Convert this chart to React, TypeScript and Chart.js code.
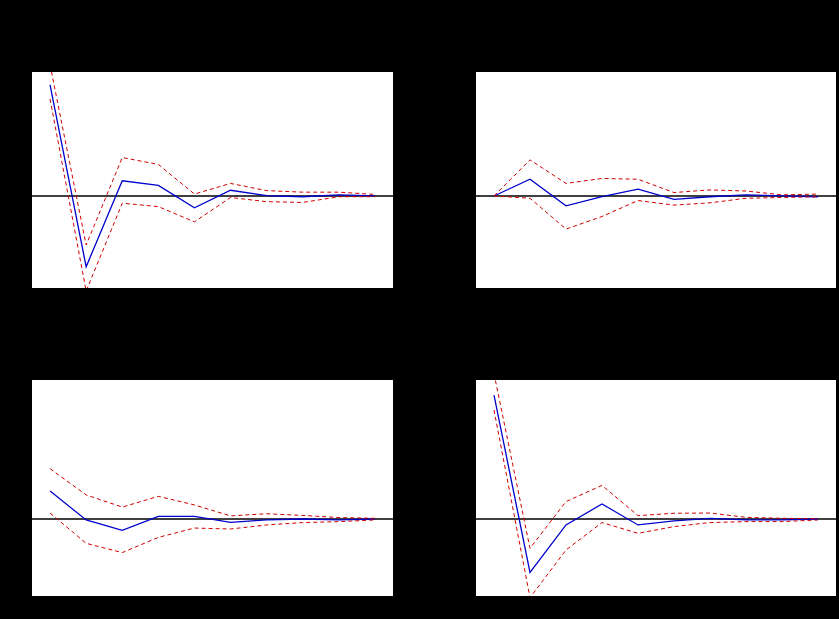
import React, { useEffect, useRef } from "react";
import { Chart, registerables } from "chart.js";

Chart.register(...registerables);

const periods = ["1", "2", "3", "4", "5", "6", "7", "8", "9", "10"];

// Top-left: Response of DGDP to DGDP
const tlMid = [2.92, -1.86, 0.40, 0.28, -0.31, 0.15, 0.01, -0.02, 0.03, 0.0];
const tlUp = [3.45, -1.29, 1.01, 0.83, 0.05, 0.33, 0.14, 0.10, 0.10, 0.04];
const tlLo = [2.55, -2.5, -0.19, -0.28, -0.68, -0.04, -0.15, -0.17, -0.02, -0.02];

// Top-right: Response of DGDP to DM2
const trMid = [0.0, 0.44, -0.26, -0.02, 0.18, -0.09, -0.02, 0.03, 0.0, -0.02];
const trUp = [0.0, 0.95, 0.33, 0.46, 0.44, 0.09, 0.16, 0.13, 0.03, 0.05];
const trLo = [0.0, -0.06, -0.87, -0.54, -0.12, -0.24, -0.18, -0.06, -0.04, -0.02];

// Bottom-left: Response of DM2 to DGDP
const blMid = [0.0117, -0.0004, -0.0048, 0.0011, 0.0011, -0.0014, -0.0004, 0.0, -0.0004, 0.0];
const blUp = [0.0211, 0.0101, 0.005, 0.0095, 0.0059, 0.0013, 0.0022, 0.0015, 0.0006, 0.0003];
const blLo = [0.0025, -0.0102, -0.0141, -0.0077, -0.0038, -0.0042, -0.0025, -0.0015, -0.0011, -0.0004];

// Bottom-right: Response of DM2 to DM2
const brMid = [0.052, -0.0224, -0.0025, 0.0063, -0.0025, -0.0008, 0.0003, -0.0004, -0.0004, 0.0];
const brUp = [0.061, -0.0123, 0.0073, 0.0141, 0.0014, 0.0024, 0.0025, 0.0007, 0.0003, 0.0001];
const brLo = [0.0457, -0.033, -0.013, -0.0015, -0.006, -0.0032, -0.0015, -0.0011, -0.0011, -0.0004];

const topTicks = [-2, -1, 0, 1, 2, 3];
const bottomTicks = [-0.02, 0, 0.02, 0.04];

const mainTitle = "Response to Cholesky One S.D. (d.f. adjusted) Innovations \u00b1 2 S.E.";
const titles = [
  "Response of DGDP to DGDP",
  "Response of DGDP to DM2",
  "Response of DM2 to DGDP",
  "Response of DM2 to DM2",
];

const fmtSmall = (v: number) => {
  const s = Math.abs(v).toFixed(2).replace(/^0/, "");
  return v < 0 ? "-" + s : s;
};

const bgZeroPlugin = {
  id: "bgZero",
  beforeDatasetsDraw(chart: any) {
    const { ctx, chartArea } = chart;
    ctx.save();
    ctx.fillStyle = "#ffffff";
    ctx.fillRect(chartArea.left, chartArea.top, chartArea.right - chartArea.left, chartArea.bottom - chartArea.top);
    const y = chart.scales.y.getPixelForValue(0);
    ctx.strokeStyle = "#000000";
    ctx.lineWidth = 1.5;
    ctx.beginPath();
    ctx.moveTo(chartArea.left, y);
    ctx.lineTo(chartArea.right, y);
    ctx.stroke();
    ctx.restore();
  },
};

type PanelProps = {
  left: number;
  top: number;
  width: number;
  height: number;
  yWidth: number;
  padTop: number;
  padRight: number;
  padBottom: number;
  mid: number[];
  up: number[];
  lo: number[];
  min: number;
  max: number;
  ticks: number[];
  small: boolean;
};

function Panel(p: PanelProps) {
  const ref = useRef<HTMLCanvasElement>(null);
  useEffect(() => {
    const red = "#d00000";
    const chart = new Chart(ref.current as HTMLCanvasElement, {
      type: "line",
      data: {
        labels: periods,
        datasets: [
          { data: p.up, borderColor: red, borderWidth: 1, borderDash: [4, 3], pointRadius: 0, tension: 0 },
          { data: p.lo, borderColor: red, borderWidth: 1, borderDash: [4, 3], pointRadius: 0, tension: 0 },
          { data: p.mid, borderColor: "#0000cc", borderWidth: 1.3, pointRadius: 0, tension: 0 },
        ],
      },
      options: {
        animation: false,
        responsive: false,
        layout: { padding: { left: 0, top: p.padTop, right: p.padRight, bottom: p.padBottom } },
        plugins: { legend: { display: false }, tooltip: { enabled: false }, title: { display: false } },
        scales: {
          x: {
            offset: true,
            grid: { display: false, drawTicks: false },
            border: { display: false },
            ticks: { color: "#000000", font: { family: "Arial, Liberation Sans", size: 11 }, padding: 6, maxRotation: 0 },
            afterFit: (s: any) => { s.height = 22; },
          },
          y: {
            min: p.min,
            max: p.max,
            grid: { display: false, drawTicks: false },
            border: { display: false },
            afterBuildTicks: (s: any) => { s.ticks = p.ticks.map((v) => ({ value: v })); },
            ticks: {
              color: "#000000",
              font: { family: "Arial, Liberation Sans", size: 11 },
              padding: 8,
              callback: (v: any) => (p.small ? fmtSmall(Number(v)) : String(v)),
            },
            afterFit: (s: any) => { s.width = p.yWidth; },
          },
        },
      },
      plugins: [bgZeroPlugin],
    });
    return () => chart.destroy();
  }, []);
  return (
    <canvas
      ref={ref}
      width={p.width}
      height={p.height}
      style={{ position: "absolute", left: p.left, top: p.top, width: p.width, height: p.height }}
    />
  );
}

const titleStyle = (left: number, top: number, width: number): React.CSSProperties => ({
  position: "absolute",
  left,
  top,
  width,
  textAlign: "center",
  color: "#000000",
  fontFamily: "Arial, 'Liberation Sans', sans-serif",
  fontSize: 12,
  whiteSpace: "nowrap",
});

export default function App() {
  return (
    <div style={{ position: "fixed", left: 0, top: 0, width: 839, height: 619, background: "#000000", overflow: "hidden" }}>
      <div style={titleStyle(0, 3, 839)}>{mainTitle}</div>
      <Panel left={0} top={0} width={420} height={310} yWidth={32} padTop={72} padRight={27} padBottom={0}
        mid={tlMid} up={tlUp} lo={tlLo} min={-2.42} max={3.26} ticks={topTicks} small={false} />
      <Panel left={420} top={0} width={419} height={310} yWidth={56} padTop={72} padRight={3} padBottom={0}
        mid={trMid} up={trUp} lo={trLo} min={-2.42} max={3.26} ticks={topTicks} small={false} />
      <Panel left={0} top={310} width={420} height={309} yWidth={32} padTop={70} padRight={27} padBottom={1}
        mid={blMid} up={blUp} lo={blLo} min={-0.0323} max={0.0583} ticks={bottomTicks} small={true} />
      <Panel left={420} top={310} width={419} height={309} yWidth={56} padTop={70} padRight={3} padBottom={1}
        mid={brMid} up={brUp} lo={brLo} min={-0.0323} max={0.0583} ticks={bottomTicks} small={true} />
      <div style={titleStyle(32, 38, 361)}>{titles[0]}</div>
      <div style={titleStyle(476, 38, 360)}>{titles[1]}</div>
      <div style={titleStyle(32, 346, 361)}>{titles[2]}</div>
      <div style={titleStyle(476, 346, 360)}>{titles[3]}</div>
    </div>
  );
}
